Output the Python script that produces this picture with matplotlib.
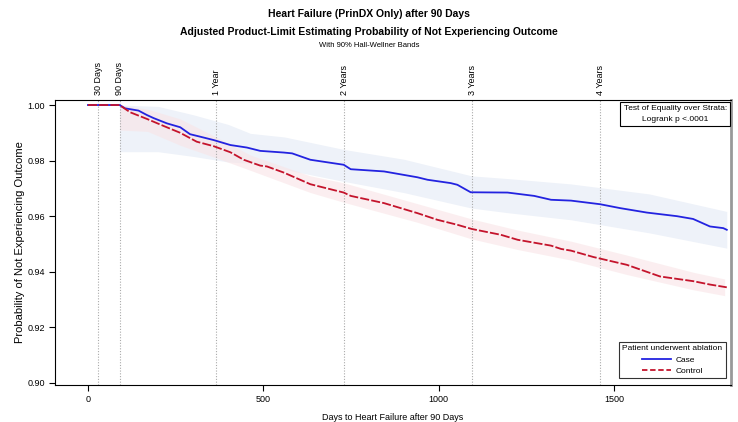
import numpy as np
import matplotlib
matplotlib.use('Agg')
import matplotlib.pyplot as plt
from matplotlib.lines import Line2D

# survival estimates (days after 90-day landmark)
case_days = [0, 90, 106, 144, 168, 187, 225, 263, 291, 320, 358, 406, 453, 491, 558, 582, 634, 729, 749,
             844, 939, 968, 1034, 1053, 1091, 1196, 1272, 1320, 1377, 1460, 1517, 1593, 1679, 1725, 1773, 1811, 1821]
case_surv = [1.0, 1.0, 0.9988, 0.9980, 0.9964, 0.9953, 0.9934, 0.9920, 0.9895, 0.9886, 0.9874, 0.9856, 0.9847,
             0.9835, 0.9829, 0.9826, 0.9803, 0.9785, 0.9769, 0.9761, 0.9740, 0.9731, 0.9719, 0.9713, 0.9686,
             0.9685, 0.9673, 0.9659, 0.9656, 0.9643, 0.9629, 0.9613, 0.9600, 0.9590, 0.9563, 0.9557, 0.9551]

ctrl_days = [0, 90, 120, 168, 215, 263, 310, 358, 406, 444, 491, 510, 558, 634, 729, 749, 844, 939, 996,
             1053, 1094, 1177, 1225, 1320, 1349, 1377, 1441, 1536, 1631, 1726, 1773, 1821]
ctrl_surv = [1.0, 1.0, 0.9974, 0.9950, 0.9925, 0.9900, 0.9868, 0.9852, 0.9830, 0.9803, 0.9782, 0.9779,
             0.9757, 0.9715, 0.9685, 0.9673, 0.9647, 0.9611, 0.9587, 0.9569, 0.9554, 0.9533, 0.9515, 0.9494,
             0.9482, 0.9476, 0.9453, 0.9425, 0.9383, 0.9366, 0.9354, 0.9344]

# 90% Hall-Wellner bands
case_band_days = [90, 200, 300, 400, 463, 560, 730, 900, 1094, 1200, 1377, 1600, 1821]
case_band_lo = [0.9832, 0.9832, 0.9815, 0.9795, 0.9790, 0.9768, 0.9725, 0.9685, 0.9629, 0.9612, 0.9587, 0.9540, 0.9485]
case_band_hi = [1.0, 0.9995, 0.9965, 0.9930, 0.9898, 0.9885, 0.9840, 0.9805, 0.9745, 0.9735, 0.9716, 0.9680, 0.9617]

ctrl_band_days = [90, 170, 263, 365, 463, 634, 729, 939, 1094, 1225, 1377, 1536, 1726, 1815]
ctrl_band_lo = [0.9910, 0.9905, 0.9855, 0.9810, 0.9765, 0.9685, 0.9650, 0.9578, 0.9518, 0.9480, 0.9442, 0.9390, 0.9335, 0.9314]
ctrl_band_hi = [1.0, 0.9985, 0.9950, 0.9885, 0.9820, 0.9745, 0.9720, 0.9645, 0.9590, 0.9550, 0.9510, 0.9460, 0.9398, 0.9374]

ref_days = [30, 90, 365, 730, 1095, 1460]
ref_labels = ['30 Days', '90 Days', '1 Year', '2 Years', '3 Years', '4 Years']

plt.rcParams['font.family'] = ['Liberation Sans', 'DejaVu Sans']

blue = '#2323e0'
red = '#c4142c'

fig = plt.figure(figsize=(7.38, 4.22), dpi=100)
ax = fig.add_axes([0.0745, 0.088, 0.916, 0.675])

ax.fill_between(case_band_days, case_band_lo, case_band_hi, color='#eef2f9', lw=0)
ax.fill_between(ctrl_band_days, ctrl_band_lo, ctrl_band_hi, color='#f9e4e6', lw=0, alpha=0.6)

for d in ref_days:
    ax.axvline(d, color='#aaaaaa', lw=0.8, ls=(0, (1, 1.5)), zorder=1)

ax.plot(case_days, case_surv, color=blue, lw=1.3, zorder=3)
ax.plot(ctrl_days, ctrl_surv, color=red, lw=1.3, ls=(0, (5, 1.2)), zorder=4)

ax.set_xlim(-94, 1833)
ax.set_ylim(0.8993, 1.0018)
ax.set_xticks([0, 500, 1000, 1500])
ax.set_yticks([0.90, 0.92, 0.94, 0.96, 0.98, 1.00])
ax.set_yticklabels(['0.90', '0.92', '0.94', '0.96', '0.98', '1.00'])
ax.tick_params(length=4, width=0.8, pad=3, labelsize=6.5)
ax.spines['right'].set_color('#999999')
ax.spines['right'].set_linewidth(2)

ax.set_xlabel('Days to Heart Failure after 90 Days', fontsize=6.5, labelpad=7)
ax.set_ylabel('Probability of Not Experiencing Outcome', fontsize=8, labelpad=2)

for d, lab in zip(ref_days, ref_labels):
    ax.text(d, 1.017, lab, transform=ax.get_xaxis_transform(), rotation=90, ha='center', va='bottom',
            fontsize=6.5)

fig.text(0.5, 0.968, 'Heart Failure (PrinDX Only) after 90 Days', ha='center', va='center',
         fontsize=7.5, fontweight='bold')
fig.text(0.5, 0.923, 'Adjusted Product-Limit Estimating Probability of Not Experiencing Outcome', ha='center',
         va='center', fontsize=7.5, fontweight='bold')
fig.text(0.5, 0.892, 'With 90% Hall-Wellner Bands', ha='center', va='center', fontsize=5.5)

ax.text(0.994, 0.982, 'Test of Equality over Strata:\nLogrank p <.0001', transform=ax.transAxes,
        ha='right', va='top', fontsize=6, multialignment='center', linespacing=1.7,
        bbox=dict(boxstyle='square,pad=0.4', fc='white', ec='black', lw=0.8))

handles = [Line2D([], [], color=blue, lw=1.3), Line2D([], [], color=red, lw=1.3, ls=(0, (3, 1.5)))]
leg = ax.legend(handles, ['Case', 'Control'], title='Patient underwent ablation', loc='lower right',
                bbox_to_anchor=(0.996, 0.015), frameon=True, fancybox=False, edgecolor='black',
                prop={'size': 6}, handlelength=3.5, borderpad=0.4, labelspacing=0.4,
                handletextpad=0.6, borderaxespad=0.3)
leg.get_title().set_fontsize(6)
leg.get_frame().set_linewidth(0.8)

fig.savefig('out.png', dpi=100)
